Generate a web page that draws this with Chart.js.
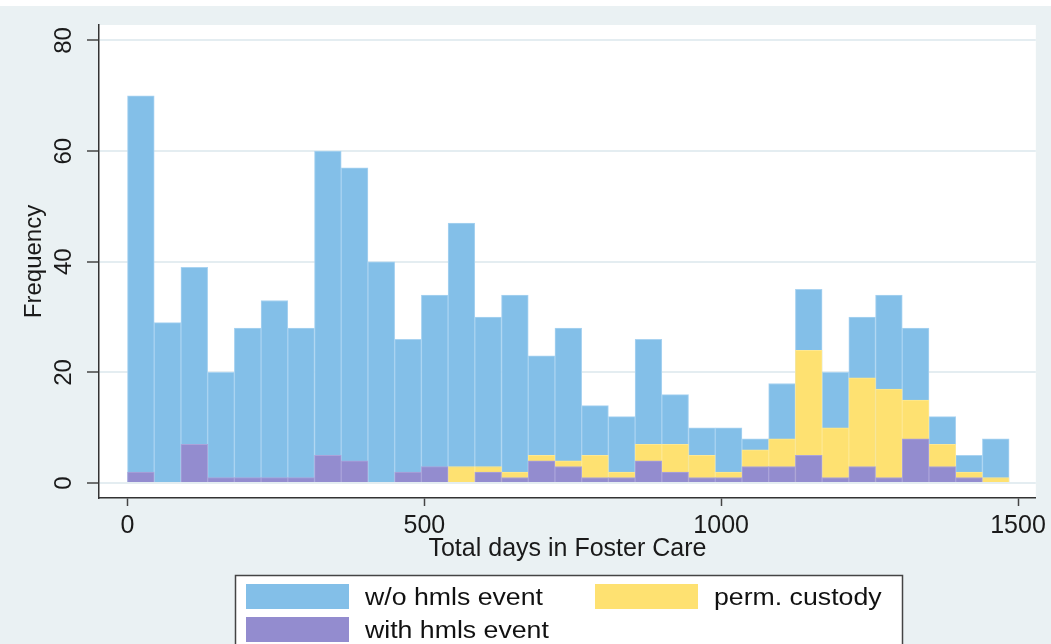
<!DOCTYPE html>
<html>
<head>
<meta charset="utf-8">
<script src="https://cdn.jsdelivr.net/npm/chart.js@4.4.1/dist/chart.umd.min.js"></script>
<style>
  html, body { margin: 0; padding: 0; background: #eaf1f3; }
  #wrap { width: 1051px; height: 644px; position: relative; }
</style>
</head>
<body>
<div id="wrap"><canvas id="histChart"></canvas></div>
<script>
// histogram bins: 45 days each, starting at day 0
const binStart = 0;
const binWidth = 45;

// frequencies per bin
const withoutEvent = [70, 29, 39, 20, 28, 33, 28, 60, 57, 40, 26, 34, 47, 30, 34, 23, 28,
                      14, 12, 26, 16, 10, 10, 8, 18, 35, 20, 30, 34, 28, 12, 5, 8];
const permCustody  = [0, 0, 0, 0, 0, 0, 0, 0, 0, 0, 0, 0, 3, 3, 2, 5, 4,
                      5, 2, 7, 7, 5, 2, 6, 8, 24, 10, 19, 17, 15, 7, 2, 1];
const withEvent    = [2, 0, 7, 1, 1, 1, 1, 5, 4, 0, 2, 3, 0, 2, 1, 4, 3,
                      1, 1, 4, 2, 1, 1, 3, 3, 5, 1, 3, 1, 8, 3, 1, 0];

const seriesLabels = ["w/o hmls event", "perm. custody", "with hmls event"];
const seriesColors = ["#83bfe8", "#fee171", "#938ccf"];
const seriesEdges  = ["#a9d3f1", "#fee891", "#aaa3da"];

const xTicks = [0, 500, 1000, 1500];
const yTicks = [0, 20, 40, 60, 80];

const FONT = "'Liberation Sans', Arial, sans-serif";

function toPoints(values) {
    return values.map((v, i) => ({ x: binStart + i * binWidth + binWidth / 2, y: v }));
}

// grey page background with white plot region
const backdrop = {
    id: "backdrop",
    beforeDraw(chart) {
        const { ctx, chartArea: a, width, height } = chart;
        ctx.save();
        ctx.fillStyle = "#eaf1f3";
        ctx.fillRect(0, 0, width, height);
        ctx.fillStyle = "#ffffff";
        ctx.fillRect(0, 0, width, 6);
        ctx.fillRect(a.left, a.top, a.right - a.left, a.bottom - a.top);
        ctx.restore();
    },
};

// boxed two-column legend under the axis title
const boxLegend = {
    id: "boxLegend",
    afterDraw(chart) {
        const ctx = chart.ctx;
        const ds = chart.data.datasets;
        ctx.save();
        ctx.fillStyle = "#ffffff";
        ctx.fillRect(235.5, 575.5, 667, 80);
        ctx.strokeStyle = "#444";
        ctx.lineWidth = 1.5;
        ctx.strokeRect(235.5, 575.5, 667, 80);
        const slots = [
            { x: 246, y: 584 },
            { x: 595, y: 584 },
            { x: 246, y: 617 },
        ];
        ctx.font = "23px " + FONT;
        ctx.textBaseline = "middle";
        ds.forEach((d, i) => {
            const s = slots[i];
            ctx.fillStyle = d.backgroundColor;
            ctx.fillRect(s.x, s.y, 103, 25);
            ctx.fillStyle = "#111";
            // the source text is a bit wider than Arial, stretch it slightly
            ctx.save();
            ctx.translate(s.x + 119, s.y + 15);
            ctx.scale(1.16, 1);
            ctx.fillText(d.label, 0, 0);
            ctx.restore();
        });
        ctx.restore();
    },
};

const ctx = document.getElementById("histChart").getContext("2d");
const histChart = new Chart(ctx, {
    type: "bar",
    data: {
        datasets: [
            { label: seriesLabels[0], data: toPoints(withoutEvent), backgroundColor: seriesColors[0], borderColor: seriesEdges[0], order: 3 },
            { label: seriesLabels[1], data: toPoints(permCustody), backgroundColor: seriesColors[1], borderColor: seriesEdges[1], order: 2 },
            { label: seriesLabels[2], data: toPoints(withEvent), backgroundColor: seriesColors[2], borderColor: seriesEdges[2], order: 1 },
        ],
    },
    options: {
        responsive: true,
        maintainAspectRatio: false,
        animation: false,
        datasets: {
            bar: {
                grouped: false,
                barPercentage: 1,
                categoryPercentage: 1,
                borderWidth: 1,
                borderSkipped: "bottom",
            },
        },
        layout: { padding: { top: 25, right: 9, bottom: 0, left: 0 } },
        plugins: {
            legend: { display: false },
            tooltip: { enabled: false },
        },
        scales: {
            x: {
                type: "linear",
                min: -48,
                max: 1530,
                offset: false,
                afterBuildTicks: (axis) => { axis.ticks = xTicks.map((v) => ({ value: v })); },
                afterFit: (axis) => { axis.height = 146; },
                grid: { offset: false, drawOnChartArea: false, tickLength: 8, tickColor: "#444", tickWidth: 1.5 },
                border: { color: "#333", width: 1.5 },
                ticks: {
                    color: "#1a1a1a",
                    font: { family: FONT, size: 25 },
                    padding: 5,
                    maxRotation: 0,
                    callback: (v) => String(v),
                },
                title: {
                    display: true,
                    text: "Total days in Foster Care",
                    color: "#1a1a1a",
                    font: { family: FONT, size: 25 },
                    padding: { top: 0, bottom: 80 },
                },
            },
            y: {
                min: -2.7,
                max: 82.8,
                afterBuildTicks: (axis) => { axis.ticks = yTicks.map((v) => ({ value: v })); },
                afterFit: (axis) => { axis.width = 99; },
                grid: { color: "#e4edf1", lineWidth: 2, tickLength: 12, tickColor: "#444", tickWidth: 1.5 },
                border: { color: "#333", width: 1.5 },
                ticks: {
                    color: "#1a1a1a",
                    font: { family: FONT, size: 24 },
                    minRotation: 90,
                    maxRotation: 90,
                    crossAlign: "center",
                    padding: 9,
                    callback: (v) => String(v),
                },
                title: {
                    display: true,
                    text: "Frequency",
                    color: "#1a1a1a",
                    font: { family: FONT, size: 24 },
                    padding: { top: 20, bottom: 0 },
                },
            },
        },
    },
    plugins: [backdrop, boxLegend],
});
</script>
</body>
</html>
